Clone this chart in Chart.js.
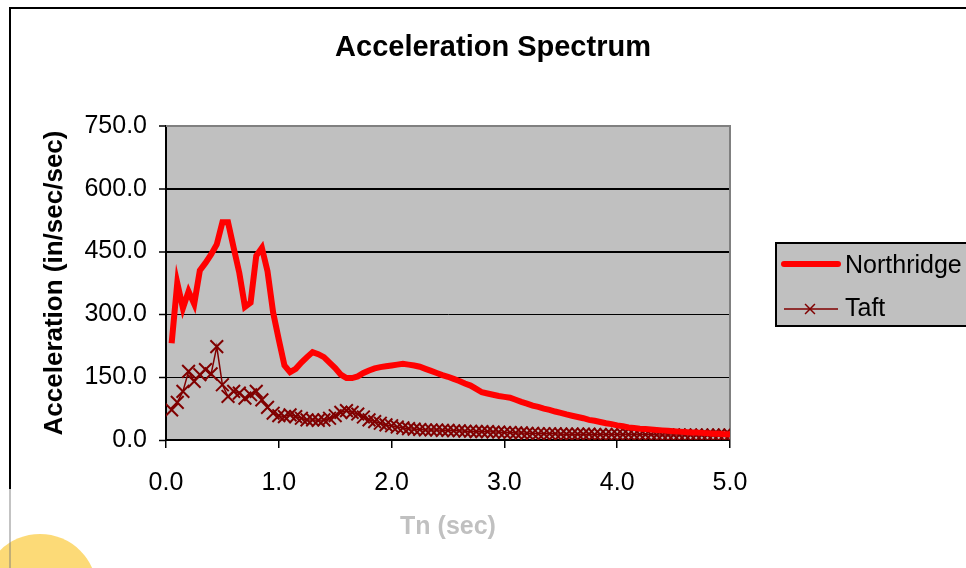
<!DOCTYPE html>
<html><head><meta charset="utf-8">
<script src="https://cdn.jsdelivr.net/npm/chart.js@4.4.0/dist/chart.umd.min.js"></script>
<style>html,body{margin:0;padding:0;background:#fff;overflow:hidden}canvas{display:block}</style>
</head><body>
<canvas id="c" width="966" height="568"></canvas>
<script>
// Period values Tn (sec)
const periods = [0.05,0.10,0.15,0.20,0.25,0.30,0.35,0.40,0.45,0.50,
  0.55,0.60,0.65,0.70,0.75,0.80,0.85,0.90,0.95,1.00,
  1.05,1.10,1.15,1.20,1.25,1.30,1.35,1.40,1.45,1.50,
  1.55,1.60,1.65,1.70,1.75,1.80,1.85,1.90,1.95,2.00,
  2.05,2.10,2.15,2.20,2.25,2.30,2.35,2.40,2.45,2.50,
  2.55,2.60,2.65,2.70,2.75,2.80,2.85,2.90,2.95,3.00,
  3.05,3.10,3.15,3.20,3.25,3.30,3.35,3.40,3.45,3.50,
  3.55,3.60,3.65,3.70,3.75,3.80,3.85,3.90,3.95,4.00,
  4.05,4.10,4.15,4.20,4.25,4.30,4.35,4.40,4.45,4.50,
  4.55,4.60,4.65,4.70,4.75,4.80,4.85,4.90,4.95,5.00];

// Acceleration (in/sec/sec)
const northridge = [231,375,315,355,325,405,423,443,467,520,
  520,459,399,318,328,440,459,403,304,240,
  178,162,170,185,198,210,205,198,185,172,
  156,148,148,152,160,166,171,174,176,178,
  180,182,180,178,175,170,165,160,155,151,
  146,141,135,130,122,114,111,108,105,103,
  101,96,91,87,82,79,75,72,68,65,
  61,58,55,52,48,46,43,40,38,35,
  33,30,29,27,26,25,24,23,22,21,
  20,19,18,18,17,16,15,15,14,14];

const taft = [72,90,116,164,140,156,168,158,223,132,
  104,116,112,100,108,116,96,78,64,58,
  56,60,56,52,48,48,47,48,52,58,
  66,70,66,62,55,48,44,40,36,34,
  31,29,27,26,25,24,24,24,23,23,
  22,22,21,21,20,20,20,19,19,18,
  18,17,17,16,16,15,15,15,15,14,
  14,14,14,14,14,13,13,13,13,13,
  13,13,13,13,13,13,12,12,12,12,
  12,12,12,12,12,12,12,12,12,12];

const seriesNames = ['Northridge','Taft'];
const xTickValues = [0,1,2,3,4,5];
const yTickValues = [0,150,300,450,600,750];

const FONT = '"Liberation Sans", Arial, Helvetica, sans-serif';

const decor = {
  id: 'decor',
  beforeDraw(chart) {
    const {ctx, chartArea: a} = chart;
    ctx.save();
    ctx.fillStyle = 'rgba(252,212,95,0.85)';
    ctx.beginPath(); ctx.arc(40, 591, 57, 0, Math.PI * 2); ctx.fill();
    ctx.strokeStyle = 'rgba(120,120,120,0.6)'; ctx.lineWidth = 1.5;
    ctx.beginPath(); ctx.moveTo(10, 489); ctx.lineTo(10, 568); ctx.stroke();
    ctx.strokeStyle = '#000'; ctx.lineWidth = 2;
    ctx.beginPath(); ctx.moveTo(10, 489); ctx.lineTo(10, 8); ctx.lineTo(966, 8); ctx.stroke();
    ctx.fillStyle = '#c0c0c0';
    ctx.fillRect(a.left, a.top, a.right - a.left, a.bottom - a.top);
    ctx.restore();
  },
  beforeDatasetsDraw(chart) {
    const {ctx, chartArea: a} = chart;
    ctx.save();
    ctx.strokeStyle = '#808080'; ctx.lineWidth = 2;
    ctx.beginPath(); ctx.moveTo(a.left, a.top); ctx.lineTo(a.right, a.top); ctx.lineTo(a.right, a.bottom); ctx.stroke();
    ctx.restore();
  },
  afterDraw(chart) {
    const {ctx} = chart;
    const ds = chart.data.datasets;
    ctx.save();
    ctx.fillStyle = '#c0c0c0';
    ctx.fillRect(776, 243, 200, 83);
    ctx.strokeStyle = '#000'; ctx.lineWidth = 2;
    ctx.strokeRect(776, 243, 200, 83);
    // Northridge sample
    ctx.strokeStyle = ds[0].borderColor; ctx.lineWidth = 6; ctx.lineCap = 'round';
    ctx.beginPath(); ctx.moveTo(784, 264); ctx.lineTo(838, 264); ctx.stroke();
    // Taft sample
    ctx.lineCap = 'butt';
    ctx.strokeStyle = ds[1].borderColor; ctx.lineWidth = 1.5;
    ctx.beginPath(); ctx.moveTo(784, 309); ctx.lineTo(838, 309); ctx.stroke();
    Chart.helpers.drawPoint(ctx, {pointStyle: 'crossRot', radius: 7, borderWidth: 1.8}, 810, 309);
    ctx.fillStyle = '#000';
    ctx.font = '25px ' + FONT;
    ctx.textBaseline = 'middle'; ctx.textAlign = 'left';
    ctx.fillText(ds[0].label, 845, 266);
    ctx.fillText(ds[1].label, 845, 309);
    ctx.restore();
  }
};

new Chart(document.getElementById('c'), {
  type: 'line',
  data: {
    datasets: [
      {
        label: seriesNames[0],
        data: periods.map((t, i) => ({x: t, y: northridge[i]})),
        borderColor: '#ff0000',
        backgroundColor: '#ff0000',
        borderWidth: 6,
        pointRadius: 0,
        tension: 0,
        fill: false
      },
      {
        label: seriesNames[1],
        data: periods.map((t, i) => ({x: t, y: taft[i]})),
        borderColor: '#800000',
        backgroundColor: '#800000',
        borderWidth: 1.5,
        pointStyle: 'crossRot',
        pointRadius: 9,
        pointBorderWidth: 2,
        pointBorderColor: '#800000',
        tension: 0,
        fill: false
      }
    ]
  },
  options: {
    responsive: false,
    animation: false,
    devicePixelRatio: 1,
    layout: {padding: {left: 20, right: 0, top: 0, bottom: 0}},
    plugins: {
      legend: {display: false},
      tooltip: {enabled: false},
      title: {
        display: true,
        text: 'Acceleration Spectrum',
        color: '#000',
        font: {family: FONT, size: 29, weight: 'bold'},
        padding: {top: 31, bottom: 60.2}
      }
    },
    scales: {
      x: {
        type: 'linear',
        min: 0, max: 5,
        afterBuildTicks(s) { s.ticks = xTickValues.map(v => ({value: v})); },
        afterFit(s) { s.height = 128; },
        ticks: {
          color: '#000',
          font: {family: FONT, size: 25},
          padding: 20,
          maxRotation: 0,
          callback: v => Number(v).toFixed(1)
        },
        grid: {display: true, drawOnChartArea: false, drawTicks: true, tickLength: 8, color: '#000', lineWidth: 1.5},
        border: {display: true, color: '#000', width: 2},
        title: {
          display: true,
          text: 'Tn (sec)',
          color: '#c0c0c0',
          font: {family: FONT, size: 25, weight: 'bold'},
          padding: {top: 0, bottom: 26}
        }
      },
      y: {
        type: 'linear',
        position: 'left',
        min: 0, max: 750,
        afterBuildTicks(s) { s.ticks = yTickValues.map(v => ({value: v})); },
        afterFit(s) { s.width = 146; },
        ticks: {
          color: '#000',
          font: {family: FONT, size: 25},
          padding: 12,
          callback: v => Number(v).toFixed(1)
        },
        grid: {
          display: true,
          drawTicks: true,
          tickLength: 7,
          tickColor: '#000',
          tickWidth: 1.5,
          color: c => (c.tick && c.tick.value === 750) ? '#808080' : '#000',
          lineWidth: c => (c.tick && c.tick.value >= 450) ? 2 : 1
        },
        border: {display: true, color: '#000', width: 2},
        title: {
          display: true,
          text: 'Acceleration (in/sec/sec)',
          color: '#000',
          font: {family: FONT, size: 26, weight: 'bold'},
          padding: {top: 19, bottom: 0}
        }
      },
      yRight: {
        type: 'linear',
        position: 'right',
        display: true,
        afterFit(s) { s.width = 236; },
        ticks: {display: false},
        grid: {display: false, drawTicks: false},
        border: {display: false}
      }
    }
  },
  plugins: [decor]
});
</script>
</body></html>
